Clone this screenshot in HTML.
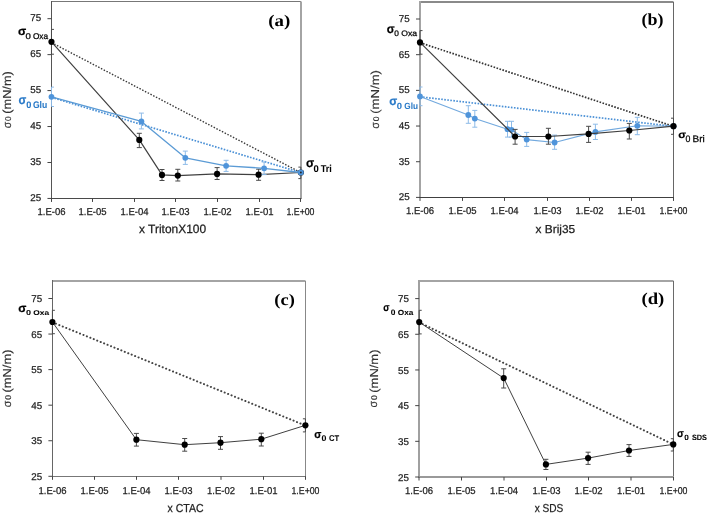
<!DOCTYPE html>
<html><head><meta charset="utf-8"><style>
html,body{margin:0;padding:0;background:#fff;width:708px;height:514px;overflow:hidden;}
svg{display:block;will-change:transform;text-rendering:geometricPrecision;}

</style></head><body>
<svg width="708" height="514" viewBox="0 0 708 514">
<rect width="708" height="514" fill="#fff"/>
<line x1="51.50" y1="1.50" x2="301.00" y2="1.50" stroke="#777" stroke-width="1" />
<line x1="301.00" y1="1.50" x2="301.00" y2="198.50" stroke="#a4a4a4" stroke-width="2" />
<line x1="51.50" y1="1.00" x2="51.50" y2="199.00" stroke="#555" stroke-width="1" />
<line x1="51.00" y1="198.50" x2="301.50" y2="198.50" stroke="#4a4a4a" stroke-width="1.1" />
<line x1="47.46" y1="198.44" x2="51.46" y2="198.44" stroke="#444" stroke-width="1.0" />
<text x="41.16" y="201.24" font-family="Liberation Sans, sans-serif" font-size="9.8" font-weight="normal" fill="#222" text-anchor="end" stroke="#222" stroke-width="0.25">25</text>
<line x1="47.46" y1="162.49" x2="51.46" y2="162.49" stroke="#444" stroke-width="1.0" />
<text x="41.16" y="165.29" font-family="Liberation Sans, sans-serif" font-size="9.8" font-weight="normal" fill="#222" text-anchor="end" stroke="#222" stroke-width="0.25">35</text>
<line x1="47.46" y1="126.54" x2="51.46" y2="126.54" stroke="#444" stroke-width="1.0" />
<text x="41.16" y="129.34" font-family="Liberation Sans, sans-serif" font-size="9.8" font-weight="normal" fill="#222" text-anchor="end" stroke="#222" stroke-width="0.25">45</text>
<line x1="47.46" y1="90.58" x2="51.46" y2="90.58" stroke="#444" stroke-width="1.0" />
<text x="41.16" y="93.38" font-family="Liberation Sans, sans-serif" font-size="9.8" font-weight="normal" fill="#222" text-anchor="end" stroke="#222" stroke-width="0.25">55</text>
<line x1="47.46" y1="54.63" x2="51.46" y2="54.63" stroke="#444" stroke-width="1.0" />
<text x="41.16" y="57.43" font-family="Liberation Sans, sans-serif" font-size="9.8" font-weight="normal" fill="#222" text-anchor="end" stroke="#222" stroke-width="0.25">65</text>
<line x1="47.46" y1="18.68" x2="51.46" y2="18.68" stroke="#444" stroke-width="1.0" />
<text x="41.16" y="21.48" font-family="Liberation Sans, sans-serif" font-size="9.8" font-weight="normal" fill="#222" text-anchor="end" stroke="#222" stroke-width="0.25">75</text>
<line x1="51.50" y1="198.44" x2="51.50" y2="201.94" stroke="#444" stroke-width="1.0" />
<text x="51.50" y="215.04" font-family="Liberation Sans, sans-serif" font-size="10" font-weight="normal" fill="#222" text-anchor="middle" textLength="28.0" lengthAdjust="spacingAndGlyphs" stroke="#222" stroke-width="0.25">1.E-06</text>
<line x1="92.50" y1="198.44" x2="92.50" y2="201.94" stroke="#444" stroke-width="1.0" />
<text x="92.50" y="215.04" font-family="Liberation Sans, sans-serif" font-size="10" font-weight="normal" fill="#222" text-anchor="middle" textLength="28.0" lengthAdjust="spacingAndGlyphs" stroke="#222" stroke-width="0.25">1.E-05</text>
<line x1="134.50" y1="198.44" x2="134.50" y2="201.94" stroke="#444" stroke-width="1.0" />
<text x="134.50" y="215.04" font-family="Liberation Sans, sans-serif" font-size="10" font-weight="normal" fill="#222" text-anchor="middle" textLength="28.0" lengthAdjust="spacingAndGlyphs" stroke="#222" stroke-width="0.25">1.E-04</text>
<line x1="175.50" y1="198.44" x2="175.50" y2="201.94" stroke="#444" stroke-width="1.0" />
<text x="175.50" y="215.04" font-family="Liberation Sans, sans-serif" font-size="10" font-weight="normal" fill="#222" text-anchor="middle" textLength="28.0" lengthAdjust="spacingAndGlyphs" stroke="#222" stroke-width="0.25">1.E-03</text>
<line x1="217.50" y1="198.44" x2="217.50" y2="201.94" stroke="#444" stroke-width="1.0" />
<text x="217.50" y="215.04" font-family="Liberation Sans, sans-serif" font-size="10" font-weight="normal" fill="#222" text-anchor="middle" textLength="28.0" lengthAdjust="spacingAndGlyphs" stroke="#222" stroke-width="0.25">1.E-02</text>
<line x1="259.50" y1="198.44" x2="259.50" y2="201.94" stroke="#444" stroke-width="1.0" />
<text x="259.50" y="215.04" font-family="Liberation Sans, sans-serif" font-size="10" font-weight="normal" fill="#222" text-anchor="middle" textLength="28.0" lengthAdjust="spacingAndGlyphs" stroke="#222" stroke-width="0.25">1.E-01</text>
<line x1="300.50" y1="198.44" x2="300.50" y2="201.94" stroke="#444" stroke-width="1.0" />
<text x="300.50" y="215.04" font-family="Liberation Sans, sans-serif" font-size="10" font-weight="normal" fill="#222" text-anchor="middle" textLength="28.0" lengthAdjust="spacingAndGlyphs" stroke="#222" stroke-width="0.25">1.E+00</text>
<text x="139.02" y="233.30" font-family="Liberation Sans, sans-serif" font-size="12.06" font-weight="normal" fill="#222" text-anchor="start" textLength="67.10" lengthAdjust="spacingAndGlyphs" stroke="#222" stroke-width="0.25">x TritonX100</text>
<g transform="translate(11.10,127.90) rotate(-90)">
<text x="-0.34" y="-0.21" font-family="Liberation Sans, sans-serif" font-size="11.52" font-weight="normal" fill="#333" text-anchor="start" textLength="6.50" lengthAdjust="spacingAndGlyphs" stroke="#333" stroke-width="0.1">σ</text>
<text x="6.97" y="-0.38" font-family="Liberation Sans, sans-serif" font-size="8.33" font-weight="normal" fill="#333" text-anchor="start" textLength="4.65" lengthAdjust="spacingAndGlyphs" stroke="#333" stroke-width="0.12">0</text>
<text x="14.21" y="0.00" font-family="Liberation Sans, sans-serif" font-size="11.60" font-weight="normal" fill="#333" text-anchor="start" textLength="42.48" lengthAdjust="spacingAndGlyphs" stroke="#333" stroke-width="0.15">(mN/m)</text>
</g>
<text x="268.27" y="25.53" font-family="Liberation Serif, serif" font-size="16.32" font-weight="bold" fill="#000" text-anchor="start" textLength="22.06" lengthAdjust="spacingAndGlyphs" >(a)</text>
<line x1="51.46" y1="42.60" x2="300.86" y2="172.60" stroke="#3a3a3a" stroke-width="1.4" stroke-dasharray="1.5 1.6"/>
<line x1="51.46" y1="97.30" x2="300.86" y2="172.60" stroke="#4a90d6" stroke-width="1.7" stroke-dasharray="1.6 1.45"/>
<polyline points="51.46,41.80 139.30,139.90 162.00,174.90 177.80,175.60 217.10,173.90 258.60,174.70 300.86,172.50" fill="none" stroke="#404040" stroke-width="1.2" stroke-linejoin="round" />
<line x1="51.46" y1="29.40" x2="51.46" y2="54.20" stroke="#4a4a4a" stroke-width="1.0" />
<line x1="51.46" y1="29.40" x2="53.96" y2="29.40" stroke="#4a4a4a" stroke-width="1.0" />
<line x1="51.46" y1="54.20" x2="53.96" y2="54.20" stroke="#4a4a4a" stroke-width="1.0" />
<line x1="139.30" y1="133.30" x2="139.30" y2="147.60" stroke="#4a4a4a" stroke-width="1.0" />
<line x1="136.80" y1="133.30" x2="141.80" y2="133.30" stroke="#4a4a4a" stroke-width="1.0" />
<line x1="136.80" y1="147.60" x2="141.80" y2="147.60" stroke="#4a4a4a" stroke-width="1.0" />
<line x1="162.00" y1="169.50" x2="162.00" y2="180.50" stroke="#4a4a4a" stroke-width="1.0" />
<line x1="159.50" y1="169.50" x2="164.50" y2="169.50" stroke="#4a4a4a" stroke-width="1.0" />
<line x1="159.50" y1="180.50" x2="164.50" y2="180.50" stroke="#4a4a4a" stroke-width="1.0" />
<line x1="177.80" y1="169.30" x2="177.80" y2="181.00" stroke="#4a4a4a" stroke-width="1.0" />
<line x1="175.30" y1="169.30" x2="180.30" y2="169.30" stroke="#4a4a4a" stroke-width="1.0" />
<line x1="175.30" y1="181.00" x2="180.30" y2="181.00" stroke="#4a4a4a" stroke-width="1.0" />
<line x1="217.10" y1="167.60" x2="217.10" y2="179.50" stroke="#4a4a4a" stroke-width="1.0" />
<line x1="214.60" y1="167.60" x2="219.60" y2="167.60" stroke="#4a4a4a" stroke-width="1.0" />
<line x1="214.60" y1="179.50" x2="219.60" y2="179.50" stroke="#4a4a4a" stroke-width="1.0" />
<line x1="258.60" y1="169.20" x2="258.60" y2="180.30" stroke="#4a4a4a" stroke-width="1.0" />
<line x1="256.10" y1="169.20" x2="261.10" y2="169.20" stroke="#4a4a4a" stroke-width="1.0" />
<line x1="256.10" y1="180.30" x2="261.10" y2="180.30" stroke="#4a4a4a" stroke-width="1.0" />
<line x1="300.86" y1="167.10" x2="300.86" y2="178.60" stroke="#4a4a4a" stroke-width="1.0" />
<line x1="298.36" y1="167.10" x2="300.86" y2="167.10" stroke="#4a4a4a" stroke-width="1.0" />
<line x1="298.36" y1="178.60" x2="300.86" y2="178.60" stroke="#4a4a4a" stroke-width="1.0" />
<circle cx="51.46" cy="41.80" r="3.1" fill="#000"/>
<circle cx="139.30" cy="139.90" r="3.1" fill="#000"/>
<circle cx="162.00" cy="174.90" r="3.1" fill="#000"/>
<circle cx="177.80" cy="175.60" r="3.1" fill="#000"/>
<circle cx="217.10" cy="173.90" r="3.1" fill="#000"/>
<circle cx="258.60" cy="174.70" r="3.1" fill="#000"/>
<circle cx="300.86" cy="172.50" r="3.1" fill="#000"/>
<polyline points="51.46,96.80 141.40,121.40 185.30,157.80 226.10,165.80 264.10,168.30 300.86,172.50" fill="none" stroke="#5b9bd5" stroke-width="1.3" stroke-linejoin="round" />
<line x1="51.46" y1="87.10" x2="51.46" y2="106.50" stroke="#8dbbe8" stroke-width="1.0" />
<line x1="51.46" y1="87.10" x2="53.96" y2="87.10" stroke="#8dbbe8" stroke-width="1.0" />
<line x1="51.46" y1="106.50" x2="53.96" y2="106.50" stroke="#8dbbe8" stroke-width="1.0" />
<line x1="141.40" y1="113.10" x2="141.40" y2="128.90" stroke="#8dbbe8" stroke-width="1.0" />
<line x1="138.90" y1="113.10" x2="143.90" y2="113.10" stroke="#8dbbe8" stroke-width="1.0" />
<line x1="138.90" y1="128.90" x2="143.90" y2="128.90" stroke="#8dbbe8" stroke-width="1.0" />
<line x1="185.30" y1="151.10" x2="185.30" y2="164.40" stroke="#8dbbe8" stroke-width="1.0" />
<line x1="182.80" y1="151.10" x2="187.80" y2="151.10" stroke="#8dbbe8" stroke-width="1.0" />
<line x1="182.80" y1="164.40" x2="187.80" y2="164.40" stroke="#8dbbe8" stroke-width="1.0" />
<line x1="226.10" y1="160.30" x2="226.10" y2="171.40" stroke="#8dbbe8" stroke-width="1.0" />
<line x1="223.60" y1="160.30" x2="228.60" y2="160.30" stroke="#8dbbe8" stroke-width="1.0" />
<line x1="223.60" y1="171.40" x2="228.60" y2="171.40" stroke="#8dbbe8" stroke-width="1.0" />
<line x1="264.10" y1="162.00" x2="264.10" y2="174.60" stroke="#8dbbe8" stroke-width="1.0" />
<line x1="261.60" y1="162.00" x2="266.60" y2="162.00" stroke="#8dbbe8" stroke-width="1.0" />
<line x1="261.60" y1="174.60" x2="266.60" y2="174.60" stroke="#8dbbe8" stroke-width="1.0" />
<circle cx="51.46" cy="96.80" r="2.9" fill="#4f94da"/>
<circle cx="141.40" cy="121.40" r="2.9" fill="#4f94da"/>
<circle cx="185.30" cy="157.80" r="2.9" fill="#4f94da"/>
<circle cx="226.10" cy="165.80" r="2.9" fill="#4f94da"/>
<circle cx="264.10" cy="168.30" r="2.9" fill="#4f94da"/>
<circle cx="300.86" cy="172.50" r="2.9" fill="#4f94da"/>
<circle cx="300.86" cy="172.50" r="0.9" fill="#222"/>
<text x="17.98" y="35.24" font-family="Liberation Sans, sans-serif" font-size="11.71" font-weight="bold" fill="#000" text-anchor="start" textLength="8.20" lengthAdjust="spacingAndGlyphs" stroke="#000" stroke-width="0.2">σ</text>
<text x="25.42" y="38.62" font-family="Liberation Sans, sans-serif" font-size="8.33" font-weight="normal" fill="#000" text-anchor="start" textLength="5.35" lengthAdjust="spacingAndGlyphs" stroke="#000" stroke-width="0.25">0</text>
<text x="32.91" y="38.70" font-family="Liberation Sans, sans-serif" font-size="8.43" font-weight="normal" fill="#000" text-anchor="start" textLength="15.19" lengthAdjust="spacingAndGlyphs" stroke="#000" stroke-width="0.25">Oxa</text>
<text x="18.51" y="103.72" font-family="Liberation Sans, sans-serif" font-size="12.82" font-weight="bold" fill="#2a7ac8" text-anchor="start" textLength="7.77" lengthAdjust="spacingAndGlyphs" stroke="#2a7ac8" stroke-width="0.2">σ</text>
<text x="26.13" y="107.51" font-family="Liberation Sans, sans-serif" font-size="9.46" font-weight="bold" fill="#2a7ac8" text-anchor="start" textLength="5.15" lengthAdjust="spacingAndGlyphs" stroke="#2a7ac8" stroke-width="0.05">0</text>
<text x="32.95" y="107.60" font-family="Liberation Sans, sans-serif" font-size="9.57" font-weight="bold" fill="#2a7ac8" text-anchor="start" textLength="14.32" lengthAdjust="spacingAndGlyphs" stroke="#2a7ac8" stroke-width="0.05">Glu</text>
<text x="305.98" y="167.42" font-family="Liberation Sans, sans-serif" font-size="12.82" font-weight="bold" fill="#000" text-anchor="start" textLength="8.20" lengthAdjust="spacingAndGlyphs" stroke="#000" stroke-width="0.2">σ</text>
<text x="313.43" y="171.70" font-family="Liberation Sans, sans-serif" font-size="9.75" font-weight="bold" fill="#000" text-anchor="start" textLength="5.26" lengthAdjust="spacingAndGlyphs" stroke="#000" stroke-width="0.05">0</text>
<text x="320.80" y="171.80" font-family="Liberation Sans, sans-serif" font-size="9.86" font-weight="bold" fill="#000" text-anchor="start" textLength="11.11" lengthAdjust="spacingAndGlyphs" stroke="#000" stroke-width="0.05">Tri</text>
<line x1="420.00" y1="2.00" x2="673.50" y2="2.00" stroke="#8a8a8a" stroke-width="2" />
<line x1="673.50" y1="2.00" x2="673.50" y2="197.50" stroke="#666" stroke-width="1" />
<line x1="420.00" y1="1.00" x2="420.00" y2="198.00" stroke="#a4a4a4" stroke-width="2" />
<line x1="419.50" y1="197.50" x2="674.00" y2="197.50" stroke="#404040" stroke-width="1.1" />
<line x1="416.00" y1="197.40" x2="420.00" y2="197.40" stroke="#444" stroke-width="1.0" />
<text x="409.70" y="200.40" font-family="Liberation Sans, sans-serif" font-size="9.8" font-weight="normal" fill="#222" text-anchor="end" stroke="#222" stroke-width="0.25">25</text>
<line x1="416.00" y1="161.72" x2="420.00" y2="161.72" stroke="#444" stroke-width="1.0" />
<text x="409.70" y="164.72" font-family="Liberation Sans, sans-serif" font-size="9.8" font-weight="normal" fill="#222" text-anchor="end" stroke="#222" stroke-width="0.25">35</text>
<line x1="416.00" y1="126.04" x2="420.00" y2="126.04" stroke="#444" stroke-width="1.0" />
<text x="409.70" y="129.04" font-family="Liberation Sans, sans-serif" font-size="9.8" font-weight="normal" fill="#222" text-anchor="end" stroke="#222" stroke-width="0.25">45</text>
<line x1="416.00" y1="90.36" x2="420.00" y2="90.36" stroke="#444" stroke-width="1.0" />
<text x="409.70" y="93.36" font-family="Liberation Sans, sans-serif" font-size="9.8" font-weight="normal" fill="#222" text-anchor="end" stroke="#222" stroke-width="0.25">55</text>
<line x1="416.00" y1="54.68" x2="420.00" y2="54.68" stroke="#444" stroke-width="1.0" />
<text x="409.70" y="57.68" font-family="Liberation Sans, sans-serif" font-size="9.8" font-weight="normal" fill="#222" text-anchor="end" stroke="#222" stroke-width="0.25">65</text>
<line x1="416.00" y1="19.00" x2="420.00" y2="19.00" stroke="#444" stroke-width="1.0" />
<text x="409.70" y="22.00" font-family="Liberation Sans, sans-serif" font-size="9.8" font-weight="normal" fill="#222" text-anchor="end" stroke="#222" stroke-width="0.25">75</text>
<line x1="420.00" y1="197.40" x2="420.00" y2="200.90" stroke="#444" stroke-width="1.0" />
<text x="420.00" y="214.10" font-family="Liberation Sans, sans-serif" font-size="10" font-weight="normal" fill="#222" text-anchor="middle" textLength="28.0" lengthAdjust="spacingAndGlyphs" stroke="#222" stroke-width="0.25">1.E-06</text>
<line x1="462.50" y1="197.40" x2="462.50" y2="200.90" stroke="#444" stroke-width="1.0" />
<text x="462.50" y="214.10" font-family="Liberation Sans, sans-serif" font-size="10" font-weight="normal" fill="#222" text-anchor="middle" textLength="28.0" lengthAdjust="spacingAndGlyphs" stroke="#222" stroke-width="0.25">1.E-05</text>
<line x1="504.50" y1="197.40" x2="504.50" y2="200.90" stroke="#444" stroke-width="1.0" />
<text x="504.50" y="214.10" font-family="Liberation Sans, sans-serif" font-size="10" font-weight="normal" fill="#222" text-anchor="middle" textLength="28.0" lengthAdjust="spacingAndGlyphs" stroke="#222" stroke-width="0.25">1.E-04</text>
<line x1="547.50" y1="197.40" x2="547.50" y2="200.90" stroke="#444" stroke-width="1.0" />
<text x="547.50" y="214.10" font-family="Liberation Sans, sans-serif" font-size="10" font-weight="normal" fill="#222" text-anchor="middle" textLength="28.0" lengthAdjust="spacingAndGlyphs" stroke="#222" stroke-width="0.25">1.E-03</text>
<line x1="589.50" y1="197.40" x2="589.50" y2="200.90" stroke="#444" stroke-width="1.0" />
<text x="589.50" y="214.10" font-family="Liberation Sans, sans-serif" font-size="10" font-weight="normal" fill="#222" text-anchor="middle" textLength="28.0" lengthAdjust="spacingAndGlyphs" stroke="#222" stroke-width="0.25">1.E-02</text>
<line x1="631.50" y1="197.40" x2="631.50" y2="200.90" stroke="#444" stroke-width="1.0" />
<text x="631.50" y="214.10" font-family="Liberation Sans, sans-serif" font-size="10" font-weight="normal" fill="#222" text-anchor="middle" textLength="28.0" lengthAdjust="spacingAndGlyphs" stroke="#222" stroke-width="0.25">1.E-01</text>
<line x1="673.50" y1="197.40" x2="673.50" y2="200.90" stroke="#444" stroke-width="1.0" />
<text x="673.50" y="214.10" font-family="Liberation Sans, sans-serif" font-size="10" font-weight="normal" fill="#222" text-anchor="middle" textLength="28.0" lengthAdjust="spacingAndGlyphs" stroke="#222" stroke-width="0.25">1.E+00</text>
<text x="535.62" y="232.85" font-family="Liberation Sans, sans-serif" font-size="11.56" font-weight="normal" fill="#222" text-anchor="start" textLength="39.53" lengthAdjust="spacingAndGlyphs" stroke="#222" stroke-width="0.25">x Brij35</text>
<g transform="translate(379.10,128.50) rotate(-90)">
<text x="-0.36" y="-0.21" font-family="Liberation Sans, sans-serif" font-size="11.52" font-weight="normal" fill="#333" text-anchor="start" textLength="6.72" lengthAdjust="spacingAndGlyphs" stroke="#333" stroke-width="0.1">σ</text>
<text x="7.19" y="-0.38" font-family="Liberation Sans, sans-serif" font-size="8.33" font-weight="normal" fill="#333" text-anchor="start" textLength="4.81" lengthAdjust="spacingAndGlyphs" stroke="#333" stroke-width="0.12">0</text>
<text x="14.68" y="0.00" font-family="Liberation Sans, sans-serif" font-size="11.60" font-weight="normal" fill="#333" text-anchor="start" textLength="43.84" lengthAdjust="spacingAndGlyphs" stroke="#333" stroke-width="0.15">(mN/m)</text>
</g>
<text x="641.51" y="25.38" font-family="Liberation Serif, serif" font-size="16.98" font-weight="bold" fill="#000" text-anchor="start" textLength="21.98" lengthAdjust="spacingAndGlyphs" >(b)</text>
<line x1="420.00" y1="42.70" x2="673.50" y2="126.40" stroke="#333" stroke-width="1.7" stroke-dasharray="1.6 1.5"/>
<line x1="420.00" y1="96.80" x2="673.50" y2="126.40" stroke="#4a90d6" stroke-width="1.7" stroke-dasharray="1.6 1.45"/>
<polyline points="420.00,96.40 468.30,115.00 474.80,118.60 507.50,129.20 511.50,129.80 526.70,139.60 554.60,142.50 595.40,131.90 637.30,125.80 673.50,126.20" fill="none" stroke="#72a9de" stroke-width="1.1" stroke-linejoin="round" />
<line x1="420.00" y1="87.00" x2="420.00" y2="105.70" stroke="#8dbbe8" stroke-width="1.0" />
<line x1="420.00" y1="87.00" x2="422.50" y2="87.00" stroke="#8dbbe8" stroke-width="1.0" />
<line x1="420.00" y1="105.70" x2="422.50" y2="105.70" stroke="#8dbbe8" stroke-width="1.0" />
<line x1="468.30" y1="105.70" x2="468.30" y2="123.30" stroke="#8dbbe8" stroke-width="1.0" />
<line x1="465.80" y1="105.70" x2="470.80" y2="105.70" stroke="#8dbbe8" stroke-width="1.0" />
<line x1="465.80" y1="123.30" x2="470.80" y2="123.30" stroke="#8dbbe8" stroke-width="1.0" />
<line x1="474.80" y1="110.40" x2="474.80" y2="127.20" stroke="#8dbbe8" stroke-width="1.0" />
<line x1="472.30" y1="110.40" x2="477.30" y2="110.40" stroke="#8dbbe8" stroke-width="1.0" />
<line x1="472.30" y1="127.20" x2="477.30" y2="127.20" stroke="#8dbbe8" stroke-width="1.0" />
<line x1="507.50" y1="121.30" x2="507.50" y2="137.10" stroke="#8dbbe8" stroke-width="1.0" />
<line x1="505.00" y1="121.30" x2="510.00" y2="121.30" stroke="#8dbbe8" stroke-width="1.0" />
<line x1="505.00" y1="137.10" x2="510.00" y2="137.10" stroke="#8dbbe8" stroke-width="1.0" />
<line x1="511.50" y1="121.30" x2="511.50" y2="137.10" stroke="#8dbbe8" stroke-width="1.0" />
<line x1="509.00" y1="121.30" x2="514.00" y2="121.30" stroke="#8dbbe8" stroke-width="1.0" />
<line x1="509.00" y1="137.10" x2="514.00" y2="137.10" stroke="#8dbbe8" stroke-width="1.0" />
<line x1="526.70" y1="132.40" x2="526.70" y2="146.40" stroke="#8dbbe8" stroke-width="1.0" />
<line x1="524.20" y1="132.40" x2="529.20" y2="132.40" stroke="#8dbbe8" stroke-width="1.0" />
<line x1="524.20" y1="146.40" x2="529.20" y2="146.40" stroke="#8dbbe8" stroke-width="1.0" />
<line x1="554.60" y1="135.10" x2="554.60" y2="149.30" stroke="#8dbbe8" stroke-width="1.0" />
<line x1="552.10" y1="135.10" x2="557.10" y2="135.10" stroke="#8dbbe8" stroke-width="1.0" />
<line x1="552.10" y1="149.30" x2="557.10" y2="149.30" stroke="#8dbbe8" stroke-width="1.0" />
<line x1="595.40" y1="124.20" x2="595.40" y2="139.50" stroke="#8dbbe8" stroke-width="1.0" />
<line x1="592.90" y1="124.20" x2="597.90" y2="124.20" stroke="#8dbbe8" stroke-width="1.0" />
<line x1="592.90" y1="139.50" x2="597.90" y2="139.50" stroke="#8dbbe8" stroke-width="1.0" />
<line x1="637.30" y1="117.30" x2="637.30" y2="134.70" stroke="#8dbbe8" stroke-width="1.0" />
<line x1="634.80" y1="117.30" x2="639.80" y2="117.30" stroke="#8dbbe8" stroke-width="1.0" />
<line x1="634.80" y1="134.70" x2="639.80" y2="134.70" stroke="#8dbbe8" stroke-width="1.0" />
<circle cx="420.00" cy="96.40" r="2.9" fill="#4f94da"/>
<circle cx="468.30" cy="115.00" r="2.9" fill="#4f94da"/>
<circle cx="474.80" cy="118.60" r="2.9" fill="#4f94da"/>
<circle cx="507.50" cy="129.20" r="2.9" fill="#4f94da"/>
<circle cx="511.50" cy="129.80" r="2.9" fill="#4f94da"/>
<circle cx="526.70" cy="139.60" r="2.9" fill="#4f94da"/>
<circle cx="554.60" cy="142.50" r="2.9" fill="#4f94da"/>
<circle cx="595.40" cy="131.90" r="2.9" fill="#4f94da"/>
<circle cx="637.30" cy="125.80" r="2.9" fill="#4f94da"/>
<circle cx="673.50" cy="126.20" r="2.9" fill="#4f94da"/>
<polyline points="420.00,42.40 515.10,136.50 548.40,136.50 588.60,133.90 629.30,130.50 673.50,126.20" fill="none" stroke="#404040" stroke-width="1.2" stroke-linejoin="round" />
<line x1="420.00" y1="30.60" x2="420.00" y2="54.20" stroke="#4a4a4a" stroke-width="1.0" />
<line x1="420.00" y1="30.60" x2="422.50" y2="30.60" stroke="#4a4a4a" stroke-width="1.0" />
<line x1="420.00" y1="54.20" x2="422.50" y2="54.20" stroke="#4a4a4a" stroke-width="1.0" />
<line x1="515.10" y1="129.40" x2="515.10" y2="144.20" stroke="#4a4a4a" stroke-width="1.0" />
<line x1="512.60" y1="129.40" x2="517.60" y2="129.40" stroke="#4a4a4a" stroke-width="1.0" />
<line x1="512.60" y1="144.20" x2="517.60" y2="144.20" stroke="#4a4a4a" stroke-width="1.0" />
<line x1="548.40" y1="128.30" x2="548.40" y2="144.20" stroke="#4a4a4a" stroke-width="1.0" />
<line x1="545.90" y1="128.30" x2="550.90" y2="128.30" stroke="#4a4a4a" stroke-width="1.0" />
<line x1="545.90" y1="144.20" x2="550.90" y2="144.20" stroke="#4a4a4a" stroke-width="1.0" />
<line x1="588.60" y1="126.30" x2="588.60" y2="142.40" stroke="#4a4a4a" stroke-width="1.0" />
<line x1="586.10" y1="126.30" x2="591.10" y2="126.30" stroke="#4a4a4a" stroke-width="1.0" />
<line x1="586.10" y1="142.40" x2="591.10" y2="142.40" stroke="#4a4a4a" stroke-width="1.0" />
<line x1="629.30" y1="123.40" x2="629.30" y2="139.00" stroke="#4a4a4a" stroke-width="1.0" />
<line x1="626.80" y1="123.40" x2="631.80" y2="123.40" stroke="#4a4a4a" stroke-width="1.0" />
<line x1="626.80" y1="139.00" x2="631.80" y2="139.00" stroke="#4a4a4a" stroke-width="1.0" />
<line x1="673.50" y1="118.20" x2="673.50" y2="134.30" stroke="#4a4a4a" stroke-width="1.0" />
<line x1="671.00" y1="118.20" x2="673.50" y2="118.20" stroke="#4a4a4a" stroke-width="1.0" />
<line x1="671.00" y1="134.30" x2="673.50" y2="134.30" stroke="#4a4a4a" stroke-width="1.0" />
<circle cx="420.00" cy="42.40" r="3.1" fill="#000"/>
<circle cx="515.10" cy="136.50" r="3.1" fill="#000"/>
<circle cx="548.40" cy="136.50" r="3.1" fill="#000"/>
<circle cx="588.60" cy="133.90" r="3.1" fill="#000"/>
<circle cx="629.30" cy="130.50" r="3.1" fill="#000"/>
<circle cx="673.50" cy="126.20" r="3.1" fill="#000"/>
<text x="386.80" y="32.83" font-family="Liberation Sans, sans-serif" font-size="12.45" font-weight="bold" fill="#000" text-anchor="start" textLength="7.87" lengthAdjust="spacingAndGlyphs" stroke="#000" stroke-width="0.2">σ</text>
<text x="394.37" y="35.92" font-family="Liberation Sans, sans-serif" font-size="7.91" font-weight="normal" fill="#000" text-anchor="start" textLength="4.65" lengthAdjust="spacingAndGlyphs" stroke="#000" stroke-width="0.25">0</text>
<text x="401.19" y="36.00" font-family="Liberation Sans, sans-serif" font-size="8.00" font-weight="normal" fill="#000" text-anchor="start" textLength="15.81" lengthAdjust="spacingAndGlyphs" stroke="#000" stroke-width="0.25">Oxa</text>
<text x="389.29" y="105.23" font-family="Liberation Sans, sans-serif" font-size="12.27" font-weight="bold" fill="#2a7ac8" text-anchor="start" textLength="7.98" lengthAdjust="spacingAndGlyphs" stroke="#2a7ac8" stroke-width="0.2">σ</text>
<text x="396.83" y="109.11" font-family="Liberation Sans, sans-serif" font-size="8.90" font-weight="bold" fill="#2a7ac8" text-anchor="start" textLength="5.26" lengthAdjust="spacingAndGlyphs" stroke="#2a7ac8" stroke-width="0.05">0</text>
<text x="404.26" y="109.20" font-family="Liberation Sans, sans-serif" font-size="9.00" font-weight="bold" fill="#2a7ac8" text-anchor="start" textLength="13.68" lengthAdjust="spacingAndGlyphs" stroke="#2a7ac8" stroke-width="0.05">Glu</text>
<text x="678.21" y="137.95" font-family="Liberation Sans, sans-serif" font-size="10.41" font-weight="bold" fill="#000" text-anchor="start" textLength="7.77" lengthAdjust="spacingAndGlyphs" stroke="#000" stroke-width="0.2">σ</text>
<text x="685.56" y="141.91" font-family="Liberation Sans, sans-serif" font-size="9.46" font-weight="normal" fill="#000" text-anchor="start" textLength="4.89" lengthAdjust="spacingAndGlyphs" stroke="#000" stroke-width="0.25">0</text>
<text x="692.58" y="141.60" font-family="Liberation Sans, sans-serif" font-size="9.57" font-weight="normal" fill="#000" text-anchor="start" textLength="12.19" lengthAdjust="spacingAndGlyphs" stroke="#000" stroke-width="0.25">Bri</text>
<line x1="52.50" y1="281.00" x2="305.50" y2="281.00" stroke="#a4a4a4" stroke-width="2" />
<line x1="305.50" y1="281.00" x2="305.50" y2="476.50" stroke="#888" stroke-width="1" />
<line x1="52.50" y1="280.00" x2="52.50" y2="477.00" stroke="#666" stroke-width="1" />
<line x1="52.00" y1="476.50" x2="306.00" y2="476.50" stroke="#777" stroke-width="1.1" />
<line x1="48.40" y1="476.30" x2="52.40" y2="476.30" stroke="#444" stroke-width="1.0" />
<text x="42.10" y="479.80" font-family="Liberation Sans, sans-serif" font-size="9.8" font-weight="normal" fill="#222" text-anchor="end" stroke="#222" stroke-width="0.25">25</text>
<line x1="48.40" y1="440.74" x2="52.40" y2="440.74" stroke="#444" stroke-width="1.0" />
<text x="42.10" y="444.24" font-family="Liberation Sans, sans-serif" font-size="9.8" font-weight="normal" fill="#222" text-anchor="end" stroke="#222" stroke-width="0.25">35</text>
<line x1="48.40" y1="405.18" x2="52.40" y2="405.18" stroke="#444" stroke-width="1.0" />
<text x="42.10" y="408.68" font-family="Liberation Sans, sans-serif" font-size="9.8" font-weight="normal" fill="#222" text-anchor="end" stroke="#222" stroke-width="0.25">45</text>
<line x1="48.40" y1="369.62" x2="52.40" y2="369.62" stroke="#444" stroke-width="1.0" />
<text x="42.10" y="373.12" font-family="Liberation Sans, sans-serif" font-size="9.8" font-weight="normal" fill="#222" text-anchor="end" stroke="#222" stroke-width="0.25">55</text>
<line x1="48.40" y1="334.06" x2="52.40" y2="334.06" stroke="#444" stroke-width="1.0" />
<text x="42.10" y="337.56" font-family="Liberation Sans, sans-serif" font-size="9.8" font-weight="normal" fill="#222" text-anchor="end" stroke="#222" stroke-width="0.25">65</text>
<line x1="48.40" y1="298.50" x2="52.40" y2="298.50" stroke="#444" stroke-width="1.0" />
<text x="42.10" y="302.00" font-family="Liberation Sans, sans-serif" font-size="9.8" font-weight="normal" fill="#222" text-anchor="end" stroke="#222" stroke-width="0.25">75</text>
<line x1="52.50" y1="476.30" x2="52.50" y2="479.80" stroke="#444" stroke-width="1.0" />
<text x="52.50" y="494.00" font-family="Liberation Sans, sans-serif" font-size="10" font-weight="normal" fill="#222" text-anchor="middle" textLength="28.0" lengthAdjust="spacingAndGlyphs" stroke="#222" stroke-width="0.25">1.E-06</text>
<line x1="94.50" y1="476.30" x2="94.50" y2="479.80" stroke="#444" stroke-width="1.0" />
<text x="94.50" y="494.00" font-family="Liberation Sans, sans-serif" font-size="10" font-weight="normal" fill="#222" text-anchor="middle" textLength="28.0" lengthAdjust="spacingAndGlyphs" stroke="#222" stroke-width="0.25">1.E-05</text>
<line x1="136.50" y1="476.30" x2="136.50" y2="479.80" stroke="#444" stroke-width="1.0" />
<text x="136.50" y="494.00" font-family="Liberation Sans, sans-serif" font-size="10" font-weight="normal" fill="#222" text-anchor="middle" textLength="28.0" lengthAdjust="spacingAndGlyphs" stroke="#222" stroke-width="0.25">1.E-04</text>
<line x1="178.50" y1="476.30" x2="178.50" y2="479.80" stroke="#444" stroke-width="1.0" />
<text x="178.50" y="494.00" font-family="Liberation Sans, sans-serif" font-size="10" font-weight="normal" fill="#222" text-anchor="middle" textLength="28.0" lengthAdjust="spacingAndGlyphs" stroke="#222" stroke-width="0.25">1.E-03</text>
<line x1="221.00" y1="476.30" x2="221.00" y2="479.80" stroke="#444" stroke-width="1.0" />
<text x="221.00" y="494.00" font-family="Liberation Sans, sans-serif" font-size="10" font-weight="normal" fill="#222" text-anchor="middle" textLength="28.0" lengthAdjust="spacingAndGlyphs" stroke="#222" stroke-width="0.25">1.E-02</text>
<line x1="263.50" y1="476.30" x2="263.50" y2="479.80" stroke="#444" stroke-width="1.0" />
<text x="263.50" y="494.00" font-family="Liberation Sans, sans-serif" font-size="10" font-weight="normal" fill="#222" text-anchor="middle" textLength="28.0" lengthAdjust="spacingAndGlyphs" stroke="#222" stroke-width="0.25">1.E-01</text>
<line x1="305.50" y1="476.30" x2="305.50" y2="479.80" stroke="#444" stroke-width="1.0" />
<text x="305.50" y="494.00" font-family="Liberation Sans, sans-serif" font-size="10" font-weight="normal" fill="#222" text-anchor="middle" textLength="28.0" lengthAdjust="spacingAndGlyphs" stroke="#222" stroke-width="0.25">1.E+00</text>
<text x="167.53" y="512.10" font-family="Liberation Sans, sans-serif" font-size="11.63" font-weight="normal" fill="#222" text-anchor="start" textLength="36.01" lengthAdjust="spacingAndGlyphs" stroke="#222" stroke-width="0.25">x CTAC</text>
<g transform="translate(10.90,406.90) rotate(-90)">
<text x="-0.35" y="-0.21" font-family="Liberation Sans, sans-serif" font-size="11.52" font-weight="normal" fill="#333" text-anchor="start" textLength="6.59" lengthAdjust="spacingAndGlyphs" stroke="#333" stroke-width="0.1">σ</text>
<text x="7.06" y="-0.38" font-family="Liberation Sans, sans-serif" font-size="8.33" font-weight="normal" fill="#333" text-anchor="start" textLength="4.71" lengthAdjust="spacingAndGlyphs" stroke="#333" stroke-width="0.12">0</text>
<text x="14.39" y="0.00" font-family="Liberation Sans, sans-serif" font-size="11.60" font-weight="normal" fill="#333" text-anchor="start" textLength="43.01" lengthAdjust="spacingAndGlyphs" stroke="#333" stroke-width="0.15">(mN/m)</text>
</g>
<text x="274.39" y="304.83" font-family="Liberation Serif, serif" font-size="16.32" font-weight="bold" fill="#000" text-anchor="start" textLength="20.42" lengthAdjust="spacingAndGlyphs" >(c)</text>
<line x1="52.40" y1="322.30" x2="305.40" y2="425.50" stroke="#444" stroke-width="2.0" stroke-dasharray="0.1 3.62" stroke-linecap="round"/>
<polyline points="52.40,322.00 136.40,439.70 184.70,444.70 220.50,442.70 261.30,439.20 305.40,425.30" fill="none" stroke="#404040" stroke-width="1.0" stroke-linejoin="round" />
<line x1="52.40" y1="310.30" x2="52.40" y2="333.70" stroke="#4a4a4a" stroke-width="1.0" />
<line x1="52.40" y1="310.30" x2="54.90" y2="310.30" stroke="#4a4a4a" stroke-width="1.0" />
<line x1="52.40" y1="333.70" x2="54.90" y2="333.70" stroke="#4a4a4a" stroke-width="1.0" />
<line x1="136.40" y1="433.40" x2="136.40" y2="446.10" stroke="#4a4a4a" stroke-width="1.0" />
<line x1="133.90" y1="433.40" x2="138.90" y2="433.40" stroke="#4a4a4a" stroke-width="1.0" />
<line x1="133.90" y1="446.10" x2="138.90" y2="446.10" stroke="#4a4a4a" stroke-width="1.0" />
<line x1="184.70" y1="438.50" x2="184.70" y2="451.20" stroke="#4a4a4a" stroke-width="1.0" />
<line x1="182.20" y1="438.50" x2="187.20" y2="438.50" stroke="#4a4a4a" stroke-width="1.0" />
<line x1="182.20" y1="451.20" x2="187.20" y2="451.20" stroke="#4a4a4a" stroke-width="1.0" />
<line x1="220.50" y1="436.60" x2="220.50" y2="449.30" stroke="#4a4a4a" stroke-width="1.0" />
<line x1="218.00" y1="436.60" x2="223.00" y2="436.60" stroke="#4a4a4a" stroke-width="1.0" />
<line x1="218.00" y1="449.30" x2="223.00" y2="449.30" stroke="#4a4a4a" stroke-width="1.0" />
<line x1="261.30" y1="433.20" x2="261.30" y2="446.00" stroke="#4a4a4a" stroke-width="1.0" />
<line x1="258.80" y1="433.20" x2="263.80" y2="433.20" stroke="#4a4a4a" stroke-width="1.0" />
<line x1="258.80" y1="446.00" x2="263.80" y2="446.00" stroke="#4a4a4a" stroke-width="1.0" />
<line x1="305.40" y1="418.80" x2="305.40" y2="431.90" stroke="#4a4a4a" stroke-width="1.0" />
<line x1="302.90" y1="418.80" x2="305.40" y2="418.80" stroke="#4a4a4a" stroke-width="1.0" />
<line x1="302.90" y1="431.90" x2="305.40" y2="431.90" stroke="#4a4a4a" stroke-width="1.0" />
<circle cx="52.40" cy="322.00" r="3.1" fill="#000"/>
<circle cx="136.40" cy="439.70" r="3.1" fill="#000"/>
<circle cx="184.70" cy="444.70" r="3.1" fill="#000"/>
<circle cx="220.50" cy="442.70" r="3.1" fill="#000"/>
<circle cx="261.30" cy="439.20" r="3.1" fill="#000"/>
<circle cx="305.40" cy="425.30" r="3.1" fill="#000"/>
<text x="18.39" y="311.84" font-family="Liberation Sans, sans-serif" font-size="11.71" font-weight="bold" fill="#000" text-anchor="start" textLength="8.09" lengthAdjust="spacingAndGlyphs" stroke="#000" stroke-width="0.2">σ</text>
<text x="26.04" y="314.83" font-family="Liberation Sans, sans-serif" font-size="7.20" font-weight="bold" fill="#000" text-anchor="start" textLength="5.03" lengthAdjust="spacingAndGlyphs" stroke="#000" stroke-width="0.05">0</text>
<text x="33.36" y="314.90" font-family="Liberation Sans, sans-serif" font-size="6.86" font-weight="bold" fill="#000" text-anchor="start" textLength="15.79" lengthAdjust="spacingAndGlyphs" stroke="#000" stroke-width="0.05">Oxa</text>
<text x="314.14" y="437.54" font-family="Liberation Sans, sans-serif" font-size="11.34" font-weight="bold" fill="#000" text-anchor="start" textLength="7.11" lengthAdjust="spacingAndGlyphs" stroke="#000" stroke-width="0.2">σ</text>
<text x="321.55" y="440.62" font-family="Liberation Sans, sans-serif" font-size="8.33" font-weight="bold" fill="#000" text-anchor="start" textLength="4.91" lengthAdjust="spacingAndGlyphs" stroke="#000" stroke-width="0.05">0</text>
<text x="328.89" y="440.70" font-family="Liberation Sans, sans-serif" font-size="8.43" font-weight="bold" fill="#000" text-anchor="start" textLength="10.20" lengthAdjust="spacingAndGlyphs" stroke="#000" stroke-width="0.05">CT</text>
<line x1="419.00" y1="281.00" x2="673.50" y2="281.00" stroke="#a4a4a4" stroke-width="2" />
<line x1="673.50" y1="281.00" x2="673.50" y2="477.00" stroke="#6a6a6a" stroke-width="1" />
<line x1="419.00" y1="280.00" x2="419.00" y2="477.50" stroke="#a0a0a0" stroke-width="2" />
<line x1="418.50" y1="477.00" x2="674.00" y2="477.00" stroke="#999" stroke-width="2" />
<line x1="415.20" y1="477.00" x2="419.20" y2="477.00" stroke="#444" stroke-width="1.0" />
<text x="408.90" y="480.70" font-family="Liberation Sans, sans-serif" font-size="9.8" font-weight="normal" fill="#222" text-anchor="end" stroke="#222" stroke-width="0.25">25</text>
<line x1="415.20" y1="441.32" x2="419.20" y2="441.32" stroke="#444" stroke-width="1.0" />
<text x="408.90" y="445.02" font-family="Liberation Sans, sans-serif" font-size="9.8" font-weight="normal" fill="#222" text-anchor="end" stroke="#222" stroke-width="0.25">35</text>
<line x1="415.20" y1="405.64" x2="419.20" y2="405.64" stroke="#444" stroke-width="1.0" />
<text x="408.90" y="409.34" font-family="Liberation Sans, sans-serif" font-size="9.8" font-weight="normal" fill="#222" text-anchor="end" stroke="#222" stroke-width="0.25">45</text>
<line x1="415.20" y1="369.96" x2="419.20" y2="369.96" stroke="#444" stroke-width="1.0" />
<text x="408.90" y="373.66" font-family="Liberation Sans, sans-serif" font-size="9.8" font-weight="normal" fill="#222" text-anchor="end" stroke="#222" stroke-width="0.25">55</text>
<line x1="415.20" y1="334.28" x2="419.20" y2="334.28" stroke="#444" stroke-width="1.0" />
<text x="408.90" y="337.98" font-family="Liberation Sans, sans-serif" font-size="9.8" font-weight="normal" fill="#222" text-anchor="end" stroke="#222" stroke-width="0.25">65</text>
<line x1="415.20" y1="298.60" x2="419.20" y2="298.60" stroke="#444" stroke-width="1.0" />
<text x="408.90" y="302.30" font-family="Liberation Sans, sans-serif" font-size="9.8" font-weight="normal" fill="#222" text-anchor="end" stroke="#222" stroke-width="0.25">75</text>
<line x1="419.00" y1="477.00" x2="419.00" y2="480.50" stroke="#444" stroke-width="1.0" />
<text x="419.00" y="494.10" font-family="Liberation Sans, sans-serif" font-size="10" font-weight="normal" fill="#222" text-anchor="middle" textLength="28.0" lengthAdjust="spacingAndGlyphs" stroke="#222" stroke-width="0.25">1.E-06</text>
<line x1="461.50" y1="477.00" x2="461.50" y2="480.50" stroke="#444" stroke-width="1.0" />
<text x="461.50" y="494.10" font-family="Liberation Sans, sans-serif" font-size="10" font-weight="normal" fill="#222" text-anchor="middle" textLength="28.0" lengthAdjust="spacingAndGlyphs" stroke="#222" stroke-width="0.25">1.E-05</text>
<line x1="504.00" y1="477.00" x2="504.00" y2="480.50" stroke="#444" stroke-width="1.0" />
<text x="504.00" y="494.10" font-family="Liberation Sans, sans-serif" font-size="10" font-weight="normal" fill="#222" text-anchor="middle" textLength="28.0" lengthAdjust="spacingAndGlyphs" stroke="#222" stroke-width="0.25">1.E-04</text>
<line x1="546.50" y1="477.00" x2="546.50" y2="480.50" stroke="#444" stroke-width="1.0" />
<text x="546.50" y="494.10" font-family="Liberation Sans, sans-serif" font-size="10" font-weight="normal" fill="#222" text-anchor="middle" textLength="28.0" lengthAdjust="spacingAndGlyphs" stroke="#222" stroke-width="0.25">1.E-03</text>
<line x1="588.50" y1="477.00" x2="588.50" y2="480.50" stroke="#444" stroke-width="1.0" />
<text x="588.50" y="494.10" font-family="Liberation Sans, sans-serif" font-size="10" font-weight="normal" fill="#222" text-anchor="middle" textLength="28.0" lengthAdjust="spacingAndGlyphs" stroke="#222" stroke-width="0.25">1.E-02</text>
<line x1="631.00" y1="477.00" x2="631.00" y2="480.50" stroke="#444" stroke-width="1.0" />
<text x="631.00" y="494.10" font-family="Liberation Sans, sans-serif" font-size="10" font-weight="normal" fill="#222" text-anchor="middle" textLength="28.0" lengthAdjust="spacingAndGlyphs" stroke="#222" stroke-width="0.25">1.E-01</text>
<line x1="673.50" y1="477.00" x2="673.50" y2="480.50" stroke="#444" stroke-width="1.0" />
<text x="673.50" y="494.10" font-family="Liberation Sans, sans-serif" font-size="10" font-weight="normal" fill="#222" text-anchor="middle" textLength="28.0" lengthAdjust="spacingAndGlyphs" stroke="#222" stroke-width="0.25">1.E+00</text>
<text x="534.64" y="512.30" font-family="Liberation Sans, sans-serif" font-size="11.48" font-weight="normal" fill="#222" text-anchor="start" textLength="28.58" lengthAdjust="spacingAndGlyphs" stroke="#222" stroke-width="0.25">x SDS</text>
<g transform="translate(377.60,407.20) rotate(-90)">
<text x="-0.35" y="-0.21" font-family="Liberation Sans, sans-serif" font-size="11.52" font-weight="normal" fill="#333" text-anchor="start" textLength="6.62" lengthAdjust="spacingAndGlyphs" stroke="#333" stroke-width="0.1">σ</text>
<text x="7.10" y="-0.38" font-family="Liberation Sans, sans-serif" font-size="8.33" font-weight="normal" fill="#333" text-anchor="start" textLength="4.74" lengthAdjust="spacingAndGlyphs" stroke="#333" stroke-width="0.12">0</text>
<text x="14.47" y="0.00" font-family="Liberation Sans, sans-serif" font-size="11.60" font-weight="normal" fill="#333" text-anchor="start" textLength="43.23" lengthAdjust="spacingAndGlyphs" stroke="#333" stroke-width="0.15">(mN/m)</text>
</g>
<text x="641.48" y="304.48" font-family="Liberation Serif, serif" font-size="16.54" font-weight="bold" fill="#000" text-anchor="start" textLength="22.84" lengthAdjust="spacingAndGlyphs" >(d)</text>
<line x1="419.20" y1="322.40" x2="673.60" y2="444.60" stroke="#444" stroke-width="2.0" stroke-dasharray="0.1 3.62" stroke-linecap="round"/>
<polyline points="419.20,322.10 503.70,378.10 545.90,464.40 588.10,458.10 629.00,450.50 673.30,444.40" fill="none" stroke="#404040" stroke-width="1.0" stroke-linejoin="round" />
<line x1="419.20" y1="310.30" x2="419.20" y2="333.90" stroke="#4a4a4a" stroke-width="1.0" />
<line x1="419.20" y1="310.30" x2="421.70" y2="310.30" stroke="#4a4a4a" stroke-width="1.0" />
<line x1="419.20" y1="333.90" x2="421.70" y2="333.90" stroke="#4a4a4a" stroke-width="1.0" />
<line x1="503.70" y1="368.80" x2="503.70" y2="388.00" stroke="#4a4a4a" stroke-width="1.0" />
<line x1="501.20" y1="368.80" x2="506.20" y2="368.80" stroke="#4a4a4a" stroke-width="1.0" />
<line x1="501.20" y1="388.00" x2="506.20" y2="388.00" stroke="#4a4a4a" stroke-width="1.0" />
<line x1="545.90" y1="459.30" x2="545.90" y2="469.50" stroke="#4a4a4a" stroke-width="1.0" />
<line x1="543.40" y1="459.30" x2="548.40" y2="459.30" stroke="#4a4a4a" stroke-width="1.0" />
<line x1="543.40" y1="469.50" x2="548.40" y2="469.50" stroke="#4a4a4a" stroke-width="1.0" />
<line x1="588.10" y1="452.20" x2="588.10" y2="464.40" stroke="#4a4a4a" stroke-width="1.0" />
<line x1="585.60" y1="452.20" x2="590.60" y2="452.20" stroke="#4a4a4a" stroke-width="1.0" />
<line x1="585.60" y1="464.40" x2="590.60" y2="464.40" stroke="#4a4a4a" stroke-width="1.0" />
<line x1="629.00" y1="444.60" x2="629.00" y2="456.40" stroke="#4a4a4a" stroke-width="1.0" />
<line x1="626.50" y1="444.60" x2="631.50" y2="444.60" stroke="#4a4a4a" stroke-width="1.0" />
<line x1="626.50" y1="456.40" x2="631.50" y2="456.40" stroke="#4a4a4a" stroke-width="1.0" />
<line x1="673.30" y1="438.70" x2="673.30" y2="451.00" stroke="#4a4a4a" stroke-width="1.0" />
<line x1="670.80" y1="438.70" x2="673.60" y2="438.70" stroke="#4a4a4a" stroke-width="1.0" />
<line x1="670.80" y1="451.00" x2="673.60" y2="451.00" stroke="#4a4a4a" stroke-width="1.0" />
<circle cx="419.20" cy="322.10" r="3.1" fill="#000"/>
<circle cx="503.70" cy="378.10" r="3.1" fill="#000"/>
<circle cx="545.90" cy="464.40" r="3.1" fill="#000"/>
<circle cx="588.10" cy="458.10" r="3.1" fill="#000"/>
<circle cx="629.00" cy="450.50" r="3.1" fill="#000"/>
<circle cx="673.30" cy="444.40" r="3.1" fill="#000"/>
<text x="383.19" y="311.14" font-family="Liberation Sans, sans-serif" font-size="10.96" font-weight="bold" fill="#000" text-anchor="start" textLength="6.23" lengthAdjust="spacingAndGlyphs" stroke="#000" stroke-width="0.2">σ</text>
<text x="390.77" y="314.62" font-family="Liberation Sans, sans-serif" font-size="7.91" font-weight="bold" fill="#000" text-anchor="start" textLength="4.68" lengthAdjust="spacingAndGlyphs" stroke="#000" stroke-width="0.05">0</text>
<text x="397.76" y="314.70" font-family="Liberation Sans, sans-serif" font-size="7.43" font-weight="bold" fill="#000" text-anchor="start" textLength="15.59" lengthAdjust="spacingAndGlyphs" stroke="#000" stroke-width="0.05">Oxa</text>
<text x="677.06" y="436.74" font-family="Liberation Sans, sans-serif" font-size="10.96" font-weight="bold" fill="#000" text-anchor="start" textLength="6.78" lengthAdjust="spacingAndGlyphs" stroke="#000" stroke-width="0.2">σ</text>
<text x="684.38" y="439.73" font-family="Liberation Sans, sans-serif" font-size="7.63" font-weight="bold" fill="#000" text-anchor="start" textLength="4.56" lengthAdjust="spacingAndGlyphs" stroke="#000" stroke-width="0.05">0</text>
<text x="691.89" y="439.80" font-family="Liberation Sans, sans-serif" font-size="7.71" font-weight="bold" fill="#000" text-anchor="start" textLength="15.10" lengthAdjust="spacingAndGlyphs" stroke="#000" stroke-width="0.05">SDS</text>
</svg>
</body></html>
